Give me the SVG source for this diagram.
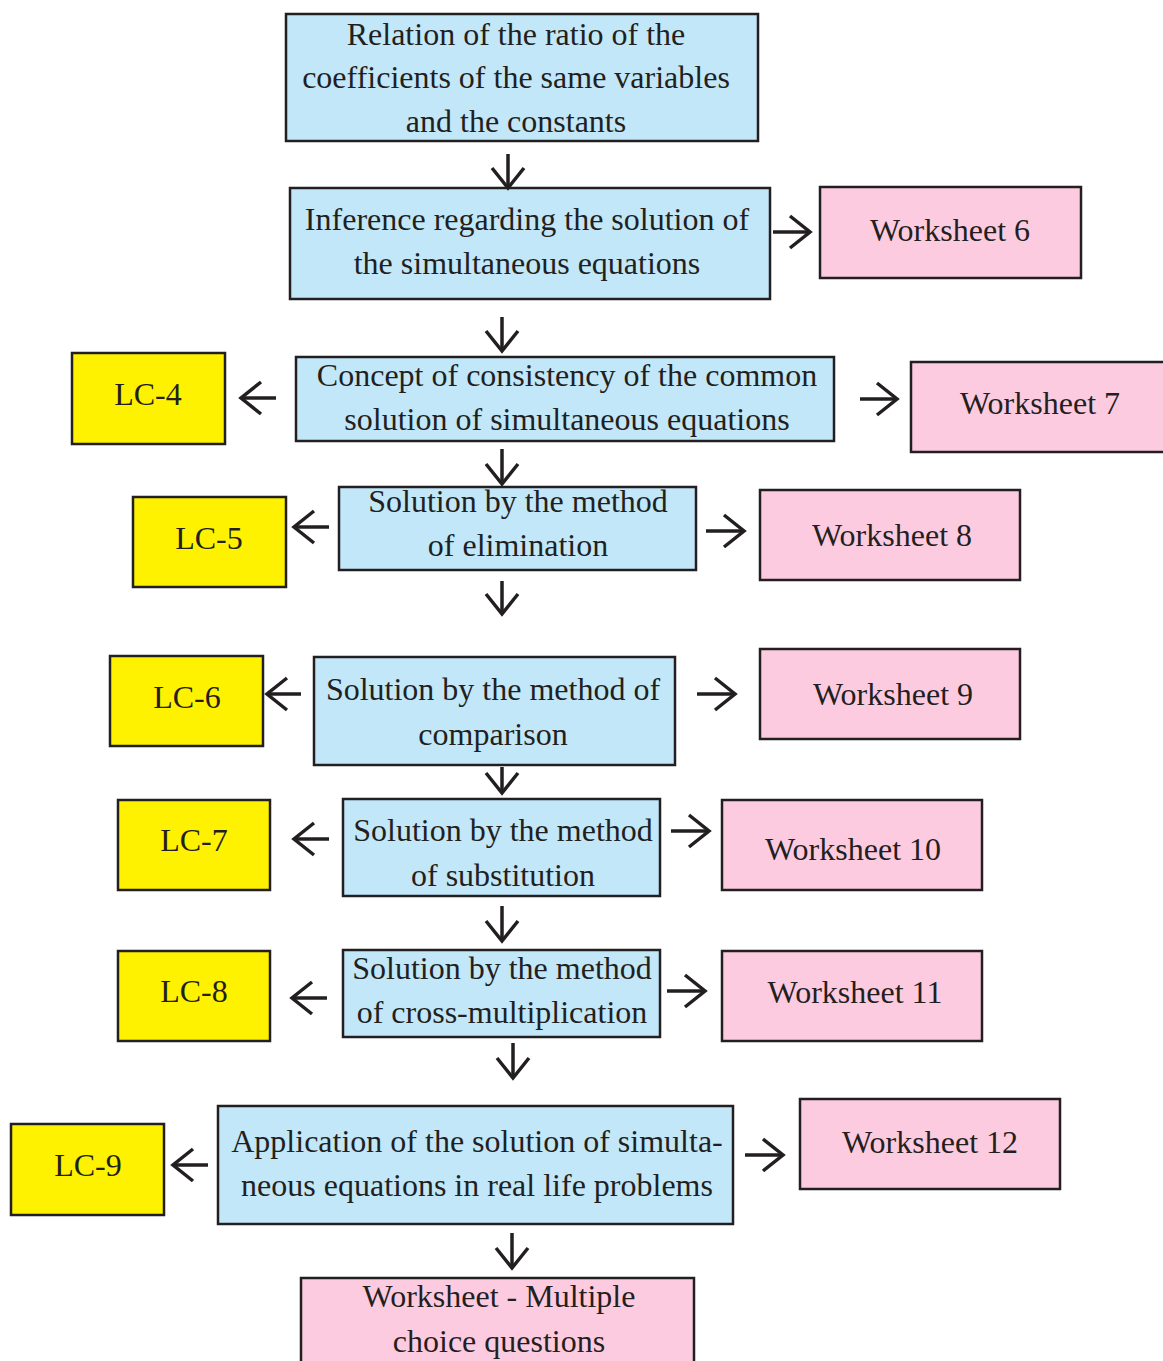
<svg xmlns="http://www.w3.org/2000/svg" width="1163" height="1361" viewBox="0 0 1163 1361">
<style>
.b{fill:#c2e7f9;stroke:#231f20;stroke-width:2.5}
.w{fill:#fdcbe0;stroke:#231f20;stroke-width:2.5}
.y{fill:#fff200;stroke:#231f20;stroke-width:2.5}
text{font-family:"Liberation Serif","Times New Roman",serif;font-size:32px;fill:#231f20;text-anchor:middle}
.c line{stroke:#231f20;stroke-width:3.5;marker-end:url(#ah)}
</style>
<defs>
<marker id="ah" markerUnits="userSpaceOnUse" viewBox="-26 -20 30 40" refX="0" refY="0" markerWidth="30" markerHeight="40" orient="auto" overflow="visible">
<path d="M-20,-16 L0,0 L-20,16" fill="none" stroke="#231f20" stroke-width="3.5" stroke-linejoin="miter"/>
</marker>
</defs>
<rect width="1163" height="1361" fill="#fff"/>
<g id="n1"><rect class="b" x="286" y="14" width="472" height="127"/><text x="516" y="45">Relation of the ratio of the</text><text x="516" y="88">coefficients of the same variables</text><text x="516" y="132">and the constants</text></g>
<g id="n2"><rect class="b" x="290" y="188" width="480" height="111"/><text x="527" y="230">Inference regarding the solution of</text><text x="527" y="274">the simultaneous equations</text></g>
<g id="ws6"><rect class="w" x="820" y="187" width="261" height="91"/><text x="950" y="241">Worksheet 6</text></g>
<g id="n3"><rect class="b" x="296" y="357" width="538" height="84"/><text x="567" y="386">Concept of consistency of the common</text><text x="567" y="430">solution of simultaneous equations</text></g>
<g id="lc4"><rect class="y" x="72" y="353" width="153" height="91"/><text x="148" y="405">LC-4</text></g>
<g id="ws7"><rect class="w" x="911" y="362" width="254" height="90"/><text x="1040" y="414">Worksheet 7</text></g>
<g id="n4"><rect class="b" x="339" y="487" width="357" height="83"/><text x="518" y="512">Solution by the method</text><text x="518" y="556">of elimination</text></g>
<g id="lc5"><rect class="y" x="133" y="497" width="153" height="90"/><text x="209" y="549">LC-5</text></g>
<g id="ws8"><rect class="w" x="760" y="490" width="260" height="90"/><text x="892" y="546">Worksheet 8</text></g>
<g id="n5"><rect class="b" x="314" y="657" width="361" height="108"/><text x="493" y="700">Solution by the method of</text><text x="493" y="745">comparison</text></g>
<g id="lc6"><rect class="y" x="110" y="656" width="153" height="90"/><text x="187" y="708">LC-6</text></g>
<g id="ws9"><rect class="w" x="760" y="649" width="260" height="90"/><text x="893" y="705">Worksheet 9</text></g>
<g id="n6"><rect class="b" x="343" y="799" width="317" height="97"/><text x="503" y="841">Solution by the method</text><text x="503" y="886">of substitution</text></g>
<g id="lc7"><rect class="y" x="118" y="800" width="152" height="90"/><text x="194" y="851">LC-7</text></g>
<g id="ws10"><rect class="w" x="722" y="800" width="260" height="90"/><text x="853" y="860">Worksheet 10</text></g>
<g id="n7"><rect class="b" x="343" y="950" width="317" height="87"/><text x="502" y="979">Solution by the method</text><text x="502" y="1023">of cross-multiplication</text></g>
<g id="lc8"><rect class="y" x="118" y="951" width="152" height="90"/><text x="194" y="1002">LC-8</text></g>
<g id="ws11"><rect class="w" x="722" y="951" width="260" height="90"/><text x="855" y="1003">Worksheet 11</text></g>
<g id="n8"><rect class="b" x="218" y="1106" width="515" height="118"/><text x="477" y="1152">Application of the solution of simulta-</text><text x="477" y="1196">neous equations in real life problems</text></g>
<g id="lc9"><rect class="y" x="11" y="1124" width="153" height="91"/><text x="88" y="1176">LC-9</text></g>
<g id="ws12"><rect class="w" x="800" y="1099" width="260" height="90"/><text x="930" y="1153">Worksheet 12</text></g>
<g id="n9"><rect class="w" x="301" y="1278" width="393" height="95"/><text x="499" y="1307">Worksheet - Multiple</text><text x="499" y="1352">choice questions</text></g>
<g class="c" id="connectors">
<line x1="508" y1="154" x2="508" y2="188"/>
<line x1="773" y1="232" x2="810" y2="232"/>
<line x1="502" y1="317" x2="502" y2="351"/>
<line x1="276" y1="398" x2="241" y2="398"/>
<line x1="860" y1="399" x2="897" y2="399"/>
<line x1="502" y1="449" x2="502" y2="484"/>
<line x1="329" y1="527" x2="294" y2="527"/>
<line x1="706" y1="531" x2="744" y2="531"/>
<line x1="502" y1="581" x2="502" y2="614"/>
<line x1="301" y1="694" x2="267" y2="694"/>
<line x1="697" y1="694" x2="735" y2="694"/>
<line x1="502" y1="767" x2="502" y2="793"/>
<line x1="329" y1="839" x2="294" y2="839"/>
<line x1="671" y1="831" x2="709" y2="831"/>
<line x1="502" y1="906" x2="502" y2="941"/>
<line x1="327" y1="998" x2="292" y2="998"/>
<line x1="667" y1="991" x2="705" y2="991"/>
<line x1="513" y1="1043" x2="513" y2="1078"/>
<line x1="208" y1="1165" x2="173" y2="1165"/>
<line x1="745" y1="1155" x2="783" y2="1155"/>
<line x1="512" y1="1233" x2="512" y2="1268"/>
</g>
</svg>
